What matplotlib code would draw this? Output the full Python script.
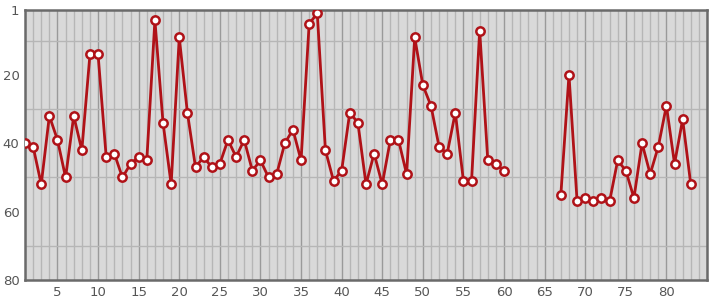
import numpy as np
import matplotlib
matplotlib.use("Agg")
import matplotlib.pyplot as plt
from matplotlib.ticker import MultipleLocator, FixedLocator

x_values = list(range(1, 84))
rank = [40, 41, 52, 32, 39, 50, 32, 42, 14, 14,
        44, 43, 50, 46, 44, 45, 4, 34, 52, 9,
        31, 47, 44, 47, 46, 39, 44, 39, 48, 45,
        50, 49, 40, 36, 45, 5, 2, 42, 51, 48,
        31, 34, 52, 43, 52, 39, 39, 49, 9, 23,
        29, 41, 43, 31, 51, 51, 7, 45, 46, 48,
        None, None, None, None, None, None, 55, 20, 57, 56,
        57, 56, 57, 45, 48, 56, 40, 49, 41, 29,
        46, 33, 52]
x_ticks = [5, 10, 15, 20, 25, 30, 35, 40, 45, 50, 55, 60, 65, 70, 75, 80]
y_ticks = [1, 20, 40, 60, 80]

y = np.array([np.nan if v is None else v for v in rank], dtype=float)

fig = plt.figure(figsize=(7.15, 3.0), dpi=100)
ax = fig.add_axes([25/715, 20/300, 682/715, 270/300])
ax.set_facecolor("#d9d9d9")

ax.set_xlim(1, 85)
ax.set_ylim(80, 1)

# grid
ax.xaxis.set_major_locator(FixedLocator(x_ticks))
ax.xaxis.set_minor_locator(MultipleLocator(1))
ax.yaxis.set_major_locator(FixedLocator(y_ticks))
ax.yaxis.set_minor_locator(FixedLocator([10, 20, 30, 40, 50, 60, 70]))
ax.grid(which="minor", axis="x", color="#b6b6b6", linewidth=1.0)
ax.grid(which="major", axis="x", color="#9a9a9a", linewidth=1.0)
ax.grid(which="minor", axis="y", color="#b6b6b6", linewidth=1.0)
ax.set_axisbelow(True)

ax.plot(x_values, y, color="#b01218", linewidth=2.0, marker="o",
        markersize=6, markerfacecolor="white", markeredgecolor="#b01218",
        markeredgewidth=1.8, zorder=3)

ax.tick_params(which="both", length=0, labelsize=9.5, labelcolor="#555555", pad=4)
for s in ax.spines.values():
    s.set_color("#6a6a6a")
    s.set_linewidth(1.8)

fig.savefig("out.png", dpi=100, facecolor="white")
